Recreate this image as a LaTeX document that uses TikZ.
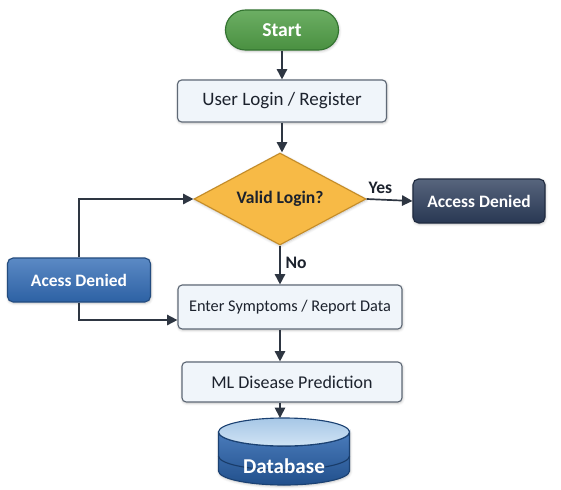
\documentclass[tikz,border=0pt]{standalone}
\usepackage{fontspec}
\setmainfont{Carlito}
\usetikzlibrary{positioning, arrows.meta, shapes.geometric, calc, shadows.blur}
\usepackage{xcolor}
\definecolor{startgreen}{RGB}{82, 160, 72}
\definecolor{startdark}{RGB}{50, 115, 48}
\definecolor{paleblue}{RGB}{240, 245, 250}
\definecolor{boxline}{RGB}{95, 105, 118}
\definecolor{decfill}{RGB}{247, 186, 70}
\definecolor{decline}{RGB}{196, 140, 40}
\definecolor{navy}{RGB}{45, 62, 92}
\definecolor{denyblue}{RGB}{50, 108, 182}
\definecolor{dbblue}{RGB}{42, 100, 175}
\definecolor{dbtop}{RGB}{188, 216, 240}
\definecolor{arrowgray}{RGB}{46, 54, 66}
\definecolor{inktext}{RGB}{28, 34, 45}

\begin{document}
\begin{tikzpicture}[
  x=0.025cm, y=-0.025cm,
  every node/.style={font=\fontsize{13}{16}\selectfont},
  shade/.style={blur shadow={shadow blur steps=5, shadow xshift=0.4pt,
    shadow yshift=-0.8pt, shadow opacity=25}},
  startbox/.style={
    shade, draw=startdark, thick, rounded corners=0.5cm,
    top color=startgreen!85!white, bottom color=startgreen!90!black,
    text=white, font=\fontsize{14}{16}\selectfont\bfseries,
    minimum width=2.825cm, minimum height=1cm,
  },
  stepbox/.style={
    shade, draw=boxline, thick, rounded corners=3pt,
    fill=paleblue, text=inktext,
    minimum height=1.05cm, align=center,
  },
  decision/.style={
    shade, draw=decline, diamond, aspect=1.87, thick, inner sep=0pt,
    fill=decfill, text=inktext, font=\fontsize{12.5}{16}\selectfont\bfseries,
    minimum width=4.3cm, minimum height=2.3cm,
  },
  darkbox/.style={
    shade, draw=#1!70!black, thick, rounded corners=4pt,
    top color=#1!80!white, bottom color=#1!90!black,
    text=white, font=\fontsize{12.4}{16}\selectfont\bfseries,
    minimum height=1.1cm,
  },
  drum/.style={shade, draw=dbblue!65!black, thick,
    top color=dbblue!85!white, bottom color=dbblue!80!black},
  drumlid/.style={draw=dbblue!65!black, thick,
    top color=dbtop!85!dbblue, bottom color=dbtop!70!white},
  dbtext/.style={text=white, font=\fontsize{15}{16}\selectfont\bfseries},
  arr/.style={-{Triangle[length=2.6mm, width=2.6mm]}, line width=1.2pt, draw=arrowgray},
  lbl/.style={text=inktext, font=\fontsize{12.5}{16}\selectfont\bfseries},
]
  \useasboundingbox (0,0) rectangle (561,489);

  \node[startbox]                           (start)   at (282,30)  {Start};
  \node[stepbox, minimum width=5.225cm, font=\fontsize{13.5}{16}\selectfont] (login) at (282,101) {User Login / Register};
  \node[decision]                           (valid)   at (280,199) {Valid Login?};
  \node[darkbox=navy, minimum width=3.3cm]  (granted) at (479,201) {Access Denied};
  \node[darkbox=denyblue, minimum width=3.575cm] (denied) at (79,280) {Acess Denied};
  \node[stepbox, minimum width=5.6cm, minimum height=1.1cm, font=\fontsize{11.6}{16}\selectfont] (symptoms) at (290,307) {Enter Symptoms / Report Data};
  \node[stepbox, minimum width=5.5cm, minimum height=1cm, font=\fontsize{12.8}{16}\selectfont] (predict) at (292,382) {ML Disease Prediction};

  % database drum
  \path[drum] (218.5,432) -- (218.5,471) arc[start angle=180, end angle=0, x radius=65.5, y radius=14]
    -- (349.5,432) arc[start angle=0, end angle=180, x radius=65.5, y radius=14] -- cycle;
  \draw[dbblue!60!black, thick] (218.5,456) arc[start angle=180, end angle=0, x radius=65.5, y radius=14];
  \path[drumlid] (284,432) ellipse[x radius=65.5, y radius=14];
  \coordinate (dbrim) at (284,418);
  \node[dbtext]                             (db)      at (284,466) {Database};

  \draw[arr] (start) -- (login);
  \draw[arr] (login) -- (login |- valid.north);
  \draw[arr] (valid.east) -- node[lbl, above, pos=0.3] {Yes} (granted.west);
  \draw[arr] (valid.south) -- node[lbl, right, pos=0.45] {No} (valid.south |- symptoms.north);
  \draw[arr] (denied.north) |- (valid.west);
  \draw[arr] (denied.south) |- ([yshift=-0.325cm]symptoms.west);
  \draw[arr] (valid.south |- symptoms.south) -- (valid.south |- predict.north);
  \draw[arr] (valid.south |- predict.south) -- (valid.south |- dbrim);
\end{tikzpicture}
\end{document}
